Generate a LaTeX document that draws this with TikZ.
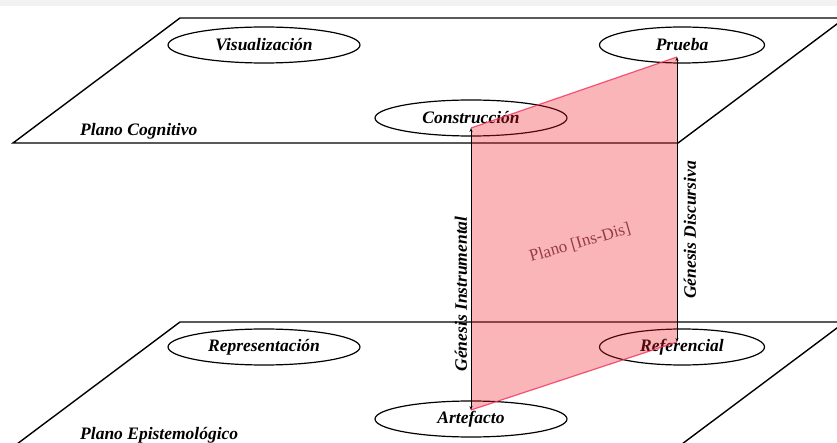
\documentclass[tikz,border=0pt]{standalone}
\usepackage{fontspec}
\setmainfont{Liberation Serif}
\usetikzlibrary{shapes.geometric,arrows.meta}
\definecolor{pinkfill}{RGB}{240,30,40}
\definecolor{pinkedge}{RGB}{240,50,90}
\definecolor{planotxt}{RGB}{150,60,72}
\definecolor{bandgray}{RGB}{242,242,242}
\begin{document}
\begin{tikzpicture}[x=1pt,y=-1pt,
  plane/.style={draw=black,line width=1.4pt,line join=miter},
  concept/.style={ellipse,draw=black,line width=1.2pt,minimum width=192pt,minimum height=36pt,inner sep=0pt,
    font=\bfseries\itshape\fontsize{17.5}{20}\selectfont},
  planelabel/.style={font=\bfseries\itshape\fontsize{17.5}{20}\selectfont,inner sep=0pt},
  genesis/.style={{Stealth[length=4pt,width=3pt]}-{Stealth[length=4pt,width=3pt]},line width=0.9pt,draw=black},
  pinkedgestyle/.style={draw=pinkedge,line width=1.2pt,draw opacity=0.8}]
\path[use as bounding box,clip] (0,0) rectangle (837,443);
\fill[bandgray] (0,0) rectangle (837,6);
% planes
\draw[plane] (180,18) -- (845,18) -- (678,143) -- (13,143) -- cycle;
\draw[plane] (180,322) -- (845,322) -- (678,447) -- (13,447) -- cycle;
% concepts
\node[concept] (vis) at (264,45) {Visualización};
\node[concept,minimum width=165pt] (pru) at (682,45) {Prueba};
\node[concept] (con) at (471,118) {Construcción};
\node[concept] (rep) at (264,347) {Representación};
\node[concept,minimum width=165pt] (ref) at (682,347) {Referencial};
\node[concept] (art) at (471,419) {Artefacto};
% anchor points of the genesis arrows
\coordinate (gi1) at ([yshift=-10pt]con.center);
\coordinate (gi2) at ([yshift=9pt]art.center);
\coordinate (gd1) at ([xshift=-5pt,yshift=-12pt]pru.center);
\coordinate (gd2) at ([xshift=-5pt,yshift=5pt]ref.center);
% plane Ins-Dis
\fill[pinkfill,fill opacity=0.33] (gi1) -- (gd1) -- (gd2) -- (gi2) -- cycle;
\draw[pinkedgestyle] (gi1) -- (gd1);
\draw[pinkedgestyle] (gi2) -- (gd2);
\node[rotate=16,text=planotxt,font=\fontsize{17}{19}\selectfont] (ptxt) at (580,243) {Plano [Ins-Dis]};
% genesis arrows
\draw[genesis] (gi1) -- (gi2);
\draw[genesis] (gd1) -- (gd2);
\node[planelabel,rotate=90] (gil) at (461,294) {Génesis Instrumental};
\node[planelabel,rotate=90] (gdl) at (690,230) {Génesis Discursiva};
% plane labels
\node[planelabel,anchor=west] (pc) at (80,131) {Plano Cognitivo};
\node[planelabel,anchor=west] (pe) at (80,435) {Plano Epistemológico};
\end{tikzpicture}
\end{document}
